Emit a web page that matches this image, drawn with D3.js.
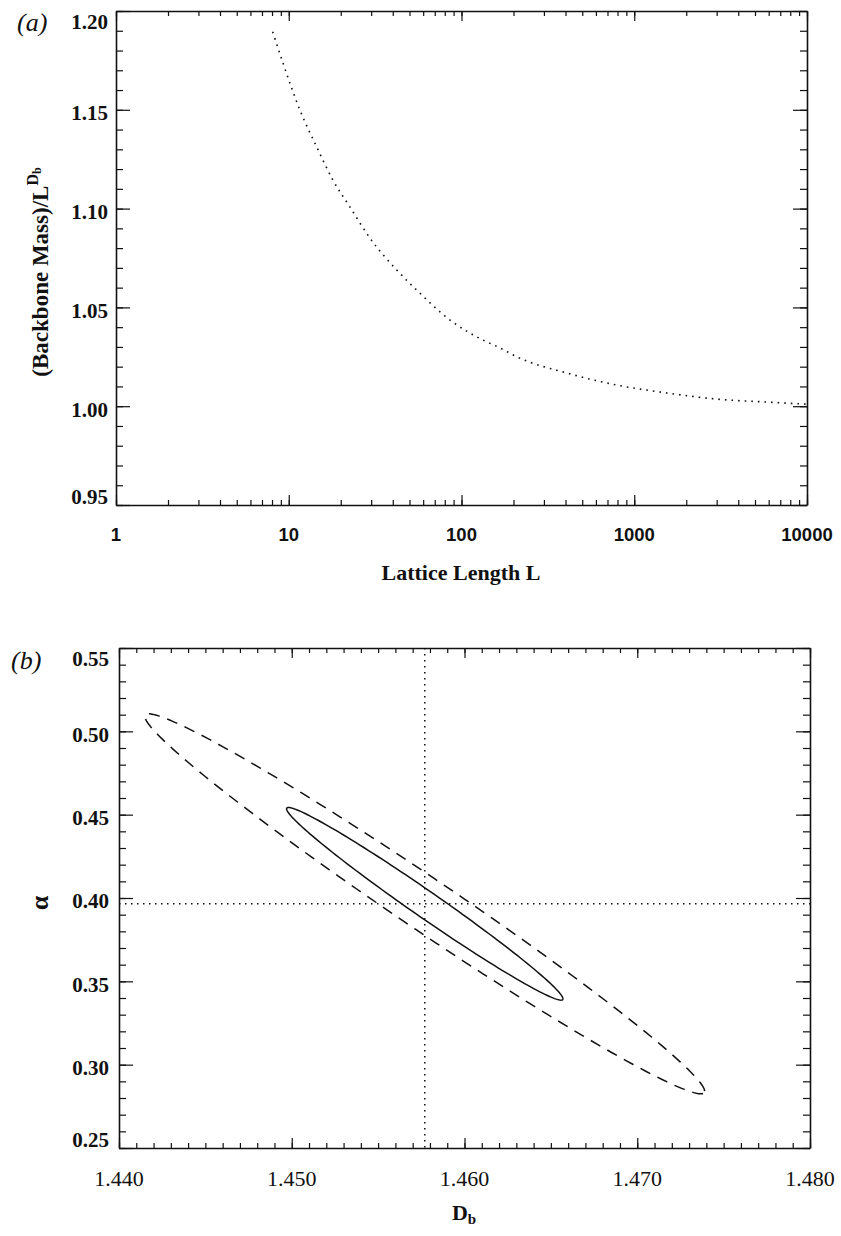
<!DOCTYPE html>
<html>
<head>
<meta charset="utf-8">
<title>Backbone mass and fit contours</title>
<script src="https://cdnjs.cloudflare.com/ajax/libs/d3/7.8.5/d3.min.js"></script>
<style>
body { margin: 0; background: #fff; }
svg { display: block; font-family: "Liberation Serif", "DejaVu Serif", serif; }
.domain { stroke: #111; stroke-width: 1.6; }
.tick line { stroke: #111; stroke-width: 1.2; }
.ticklab { font-size: 21px; fill: #111; }
.title { font-size: 22px; font-weight: bold; fill: #111; }
.panel { font-size: 26px; font-style: italic; fill: #111; }
</style>
</head>
<body>
<svg></svg>
<script>
// panel (a): backbone mass ratio vs lattice length
var latticeL  = [8.07, 9.26, 11.6, 14.5, 18.0, 22.6, 29.5, 42.2, 55.0, 85.8,
                 133, 167, 209, 406, 791, 1541, 3001, 5845, 10000];
var massRatio = [1.1895, 1.1737, 1.1499, 1.1313, 1.1145, 1.1008, 1.0851, 1.0689, 1.0588, 1.0436,
                 1.0335, 1.0295, 1.0250, 1.0168, 1.0107, 1.0067, 1.0036, 1.0021, 1.0010];
var aXTicks  = [1, 10, 100, 1000, 10000];
var aXLabels = ["1", "10", "100", "1000", "10000"];
var aYTicks  = [0.95, 1.00, 1.05, 1.10, 1.15, 1.20];
var aYLabels = ["0.95", "1.00", "1.05", "1.10", "1.15", "1.20"];

// panel (b): best fit and confidence contours
var bestDb = 1.4577;
var bestAlpha = 0.3965;
var contourNames = ["inner", "outer"];
var contourHalfDb = [0.0080, 0.0162];
var contourHalfAlpha = [0.0578, 0.1140];
var contourCorr = -0.986;
var bXTicks  = [1.440, 1.450, 1.460, 1.470, 1.480];
var bXLabels = ["1.440", "1.450", "1.460", "1.470", "1.480"];
var bYTicks  = [0.25, 0.30, 0.35, 0.40, 0.45, 0.50, 0.55];
var bYLabels = ["0.25", "0.30", "0.35", "0.40", "0.45", "0.50", "0.55"];

var W = 841, H = 1236;
var svg = d3.select("svg").attr("width", W).attr("height", H);
svg.append("rect").attr("width", W).attr("height", H).attr("fill", "#fff");

function frame(x, y, xMajor, xMinor, yMajor, yMinor) {
  var xr = x.range(), yr = y.range();
  var g = svg.append("g");
  function put(axis, tr, vals, size, keepDomain) {
    var a = g.append("g").attr("transform", tr)
      .call(axis.tickValues(vals).tickSize(-size).tickSizeOuter(0).tickFormat(""));
    if (!keepDomain) a.select(".domain").remove();
  }
  put(d3.axisBottom(x), "translate(0," + yr[0] + ")", xMajor, 10, true);
  put(d3.axisBottom(x), "translate(0," + yr[0] + ")", xMinor, 5, false);
  put(d3.axisTop(x), "translate(0," + yr[1] + ")", xMajor, 10, true);
  put(d3.axisTop(x), "translate(0," + yr[1] + ")", xMinor, 5, false);
  put(d3.axisLeft(y), "translate(" + xr[0] + ",0)", yMajor, 14, true);
  put(d3.axisLeft(y), "translate(" + xr[0] + ",0)", yMinor, 7, false);
  put(d3.axisRight(y), "translate(" + xr[1] + ",0)", yMajor, 14, true);
  put(d3.axisRight(y), "translate(" + xr[1] + ",0)", yMinor, 7, false);
  return g;
}

function yLabels(y, vals, labs, xPos) {
  svg.append("g").selectAll("text").data(vals).enter().append("text")
    .attr("class", "ticklab")
    .attr("x", xPos)
    .attr("y", function(d, i) {
      var off = i === 0 ? -8 : (i === vals.length - 1 ? 11 : 3);
      return y(d) + off;
    })
    .attr("dy", "0.35em")
    .attr("text-anchor", "end")
    .style("font-weight", "bold")
    .text(function(d, i) { return labs[i]; });
}

function xLabels(x, yPix, vals, labs, font, weight, size) {
  svg.append("g").selectAll("text").data(vals).enter().append("text")
    .attr("class", "ticklab")
    .attr("x", function(d) { return x(d); })
    .attr("y", yPix)
    .attr("dy", "0.35em")
    .attr("text-anchor", "middle")
    .style("font-family", font)
    .style("font-weight", weight)
    .style("font-size", size)
    .text(function(d, i) { return labs[i]; });
}

// ---------- panel (a)
var xA = d3.scaleLog().domain([1, 10000]).range([116, 807]);
var yA = d3.scaleLinear().domain([0.95, 1.20]).range([505, 11]);

frame(xA, yA, aXTicks, xA.ticks(), aYTicks, yA.ticks(25));

var curveA = latticeL.map(function(d, i) { return [d, massRatio[i]]; });
svg.append("path")
  .datum(curveA)
  .attr("fill", "none")
  .attr("stroke", "#111")
  .attr("stroke-width", 1.6)
  .attr("stroke-dasharray", "1.6,5")
  .attr("d", d3.line()
    .x(function(d) { return xA(d[0]); })
    .y(function(d) { return yA(d[1]); })
    .curve(d3.curveMonotoneX));

yLabels(yA, aYTicks, aYLabels, 108);
xLabels(xA, 535, aXTicks, aXLabels, "Liberation Sans", "bold", "18.5px");

svg.append("text").attr("class", "title")
  .attr("x", 461).attr("y", 580).attr("text-anchor", "middle")
  .text("Lattice Length L");

var ya = svg.append("text").attr("class", "title")
  .attr("transform", "translate(48,272) rotate(-90)")
  .attr("text-anchor", "middle")
  .style("font-size", "23px");
ya.append("tspan").text("(Backbone Mass)/L");
ya.append("tspan").attr("dy", -10).style("font-size", "16px").text("D");
ya.append("tspan").attr("dy", 3).style("font-size", "12px").text("b");

svg.append("text").attr("class", "panel").attr("x", 17).attr("y", 31).text("(a)");

// ---------- panel (b)
var xB = d3.scaleLinear().domain([1.440, 1.480]).range([119, 810]);
var yB = d3.scaleLinear().domain([0.25, 0.55]).range([1148, 648]);

frame(xB, yB, bXTicks, xB.ticks(40), bYTicks, yB.ticks(30));

var dotted = svg.append("g")
  .attr("stroke", "#111").attr("stroke-width", 1.5).attr("stroke-dasharray", "1.5,4.5");
dotted.append("line")
  .attr("x1", xB(bestDb)).attr("x2", xB(bestDb))
  .attr("y1", yB(0.55)).attr("y2", yB(0.25));
dotted.append("line")
  .attr("x1", xB(1.440)).attr("x2", xB(1.480))
  .attr("y1", yB(bestAlpha)).attr("y2", yB(bestAlpha));

var angles = d3.range(0, 361, 2).map(function(a) { return a * Math.PI / 180; });
var ellLine = d3.line()
  .x(function(d) { return xB(d[0]); })
  .y(function(d) { return yB(d[1]); });
contourNames.forEach(function(name, i) {
  var ax = contourHalfDb[i], ay = contourHalfAlpha[i];
  var s = Math.sqrt(1 - contourCorr * contourCorr);
  var pts = angles.map(function(t) {
    return [bestDb + ax * Math.cos(t),
            bestAlpha + ay * (contourCorr * Math.cos(t) + s * Math.sin(t))];
  });
  svg.append("path").datum(pts)
    .attr("fill", "none")
    .attr("stroke", "#111")
    .attr("stroke-width", 1.5)
    .attr("stroke-dasharray", name === "outer" ? "11,8" : null)
    .attr("d", ellLine);
});

yLabels(yB, bYTicks, bYLabels, 109);
xLabels(xB, 1178, bXTicks, bXLabels, "Liberation Serif", "normal", "22px");

var xt = svg.append("text").attr("class", "title")
  .attr("x", 464).attr("y", 1220).attr("text-anchor", "middle");
xt.append("tspan").text("D");
xt.append("tspan").attr("dy", 4).style("font-size", "15px").text("b");

svg.append("text").attr("class", "title")
  .attr("transform", "translate(48,903) rotate(-90)")
  .attr("text-anchor", "middle")
  .style("font-size", "26px")
  .text("α");

svg.append("text").attr("class", "panel").attr("x", 11).attr("y", 669).text("(b)");
</script>
</body>
</html>
